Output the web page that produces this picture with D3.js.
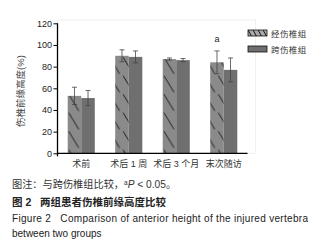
<!DOCTYPE html>
<html>
<head>
<meta charset="utf-8">
<script src="https://cdn.jsdelivr.net/npm/d3@7"></script>
<style>
  body { margin: 0; background: #fff; }
  svg { display: block; }
  text { font-family: "Liberation Sans", "Noto Sans CJK SC", sans-serif; }
</style>
</head>
<body>
<div id="canvas"></div>
<script>
// Canvas size.
const WIDTH = 329;
const HEIGHT = 250;

// The data.
const categories = ["术前", "术后 1 周", "术后 3 个月", "末次随访"];
const seriesNames = ["经伤椎组", "跨伤椎组"];
const transMeans = [53, 90, 87, 84];
const transErrors = [8, 5.5, 1, 10.5];
const acrossMeans = [51, 89, 86, 77];
const acrossErrors = [7, 5.5, 1.5, 11];
const yTicks = [0, 20, 40, 60, 80, 100, 120];
const sigMarks = ["", "", "", "a"];

const rows = categories.map((c, i) => ({
    cat: c,
    values: [
        { key: 0, mean: transMeans[i], err: transErrors[i] },
        { key: 1, mean: acrossMeans[i], err: acrossErrors[i] }
    ],
    mark: sigMarks[i]
}));

const colors = ["#8a8a8a", "#6f6f6f"];

const svg = d3.select("#canvas")
    .append("svg")
    .attr("width", WIDTH)
    .attr("height", HEIGHT);

// Scales.
const xScale = d3.scaleBand()
    .domain(categories)
    .range([57.5, 247.5])
    .paddingInner(0.43)
    .paddingOuter(0.215);

const xSub = d3.scaleBand()
    .domain([0, 1])
    .range([0, xScale.bandwidth()]);

const yScale = d3.scaleLinear()
    .domain([0, 120])
    .range([153.3, 23.3]);

// faint plot frame
svg.append("rect")
    .attr("x", 57.5).attr("y", 20)
    .attr("width", 198).attr("height", 133.3)
    .attr("fill", "none")
    .attr("stroke", "#f0f0f0")
    .attr("stroke-width", 1);

// Hatch patterns, one per group so lines start at the bar edge.
const defs = svg.append("defs");
categories.forEach((c, i) => {
    const p = defs.append("pattern")
        .attr("id", "hatch" + i)
        .attr("patternUnits", "userSpaceOnUse")
        .attr("x", xScale(c))
        .attr("y", yScale(0) - 4)
        .attr("width", xSub.bandwidth())
        .attr("height", 18.5);
    p.append("rect")
        .attr("width", xSub.bandwidth()).attr("height", 18.5)
        .attr("fill", colors[0]);
    p.append("line")
        .attr("x1", 1).attr("y1", 0.5)
        .attr("x2", 11).attr("y2", 17)
        .attr("stroke", "#111")
        .attr("stroke-width", 0.9);
});

// Bars.
const groups = svg.selectAll("g.grp")
    .data(rows)
    .enter()
    .append("g")
    .attr("class", "grp")
    .attr("transform", d => `translate(${xScale(d.cat)},0)`);

groups.selectAll("rect")
    .data((d, i) => d.values.map(v => ({ ...v, gi: i })))
    .enter()
    .append("rect")
    .attr("x", d => xSub(d.key))
    .attr("y", d => yScale(d.mean))
    .attr("width", xSub.bandwidth())
    .attr("height", d => yScale(0) - yScale(d.mean))
    .attr("fill", d => d.key === 0 ? `url(#hatch${d.gi})` : colors[1]);

// Error bars.
const errs = groups.selectAll("g.err")
    .data(d => d.values)
    .enter()
    .append("g")
    .attr("class", "err")
    .attr("stroke", "#444")
    .attr("stroke-width", 0.8);

const cx = d => xSub(d.key) + xSub.bandwidth() / 2;
errs.append("line")
    .attr("x1", cx).attr("x2", cx)
    .attr("y1", d => yScale(d.mean + d.err))
    .attr("y2", d => yScale(d.mean - d.err));
errs.append("line")
    .attr("x1", d => cx(d) - 2.5).attr("x2", d => cx(d) + 2.5)
    .attr("y1", d => yScale(d.mean + d.err))
    .attr("y2", d => yScale(d.mean + d.err));
errs.append("line")
    .attr("x1", d => cx(d) - 2.5).attr("x2", d => cx(d) + 2.5)
    .attr("y1", d => yScale(d.mean - d.err))
    .attr("y2", d => yScale(d.mean - d.err));

// Significance mark.
groups.append("text")
    .attr("x", d => xSub(0) + xSub.bandwidth() / 2)
    .attr("y", d => yScale(d.values[0].mean + d.values[0].err) - 9)
    .attr("text-anchor", "middle")
    .attr("font-size", 9)
    .attr("fill", "#222")
    .text(d => d.mark);

// Axes.
const yAxis = d3.axisLeft(yScale).tickValues(yTicks).tickSize(4).tickPadding(1.5);
const yG = svg.append("g")
    .attr("transform", "translate(57.5,0)")
    .call(yAxis);
yG.select(".domain").attr("d", `M0,${yScale(120)}V${yScale(0) + 3}`).attr("stroke", "#000").attr("stroke-width", 1.3);
yG.selectAll(".tick line").attr("stroke", "#000");
yG.selectAll("text").attr("font-size", 9).attr("fill", "#222").attr("font-family", "Liberation Sans, sans-serif");

const xAxis = d3.axisBottom(xScale).tickSize(0).tickPadding(7);
const xG = svg.append("g")
    .attr("transform", `translate(0,${yScale(0)})`)
    .call(xAxis);
xG.select(".domain").attr("d", "M57.5,0H247.5").attr("stroke", "#000").attr("stroke-width", 1.3);
xG.selectAll("text").attr("font-size", 9).attr("fill", "#333").attr("font-family", "Noto Sans CJK SC, sans-serif");

// Y label.
svg.append("text")
    .attr("transform", "translate(24,91) rotate(-90)")
    .attr("text-anchor", "middle")
    .attr("font-size", 9.5)
    .attr("fill", "#444")
    .attr("font-family", "Noto Sans CJK SC, sans-serif")
    .text("伤椎前缘高度(%)");

// Legend.
const legend = svg.selectAll("g.leg")
    .data(seriesNames)
    .enter()
    .append("g")
    .attr("class", "leg")
    .attr("transform", (d, i) => `translate(248,${30 + i * 16})`);

const legHatch = defs.append("pattern")
    .attr("id", "leghatch")
    .attr("patternUnits", "userSpaceOnUse")
    .attr("width", 5).attr("height", 7);
legHatch.append("rect").attr("width", 5).attr("height", 7).attr("fill", "#aaa");
legHatch.append("line")
    .attr("x1", 0).attr("y1", 0).attr("x2", 4).attr("y2", 7)
    .attr("stroke", "#111").attr("stroke-width", 1);

legend.append("rect")
    .attr("width", 19).attr("height", 6)
    .attr("fill", (d, i) => i === 0 ? "url(#leghatch)" : colors[1])
    .attr("stroke", "#111")
    .attr("stroke-width", 0.8);
legend.append("text")
    .attr("x", 23).attr("y", 6.5)
    .attr("font-size", 8.5)
    .attr("letter-spacing", 0.4)
    .attr("fill", "#333")
    .attr("font-family", "Noto Sans CJK SC, sans-serif")
    .text(d => d);

// Caption.
const cap1 = svg.append("text")
    .attr("x", 12).attr("y", 188)
    .attr("font-size", 10.2)
    .attr("fill", "#333")
    .attr("font-family", "Noto Sans CJK SC, sans-serif");
cap1.append("tspan").text("图注：与跨伤椎组比较，");
cap1.append("tspan").attr("font-size", 6.5).attr("dy", -3.5).text("a");
cap1.append("tspan").attr("dy", 3.5).attr("font-style", "italic").attr("font-family", "Liberation Sans, sans-serif").text("P");
cap1.append("tspan").attr("font-family", "Liberation Sans, sans-serif").text(" < 0.05");
cap1.append("tspan").text("。");

svg.append("text")
    .attr("x", 12).attr("y", 205.5)
    .attr("font-size", 10.5)
    .attr("font-weight", "bold")
    .attr("fill", "#222")
    .attr("font-family", "Noto Sans CJK SC, sans-serif")
    .attr("xml:space", "preserve")
    .text("图 2   两组患者伤椎前缘高度比较");

svg.append("text")
    .attr("x", 12).attr("y", 222)
    .attr("font-size", 10)
    .attr("fill", "#222")
    .attr("textLength", 296)
    .attr("xml:space", "preserve")
    .text("Figure 2   Comparison of anterior height of the injured vertebra");

svg.append("text")
    .attr("x", 12).attr("y", 237)
    .attr("font-size", 10)
    .attr("fill", "#222")
    .text("between two groups");
</script>
</body>
</html>
